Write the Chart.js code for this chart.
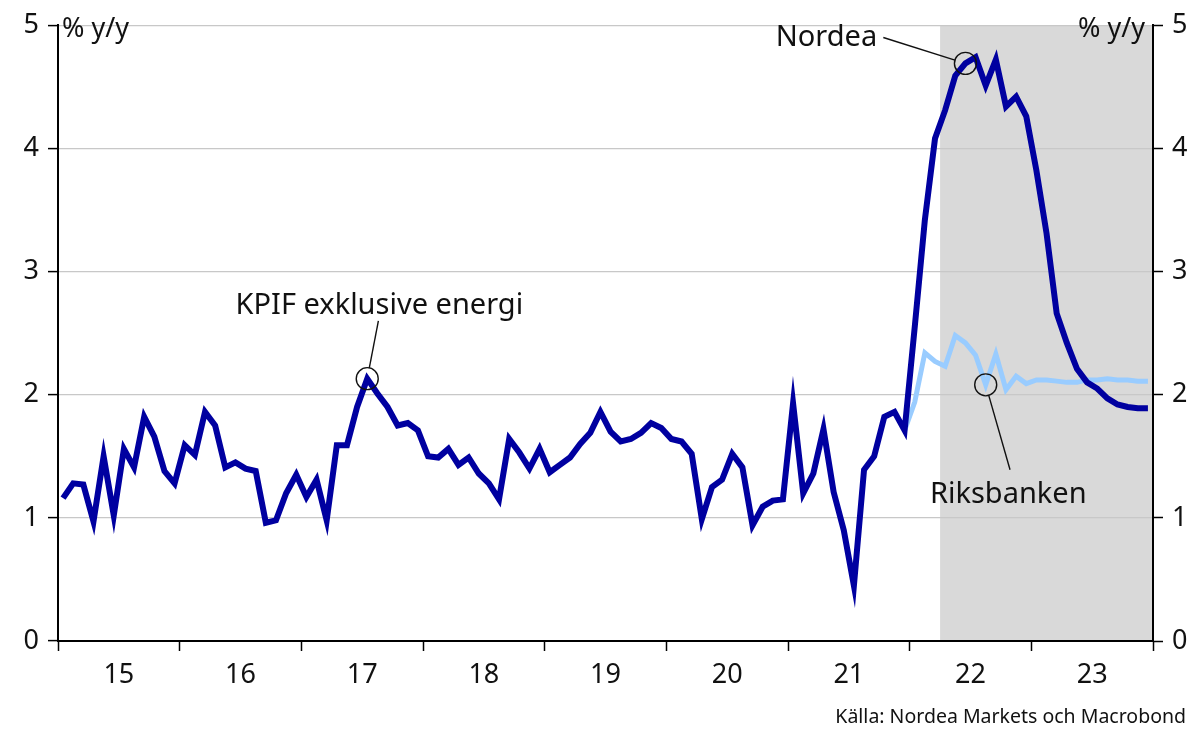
<!DOCTYPE html>
<html>
<head>
<meta charset="utf-8">
<script src="https://cdn.jsdelivr.net/npm/chart.js@4.4.1/dist/chart.umd.min.js"></script>
<style>
  html, body { margin: 0; padding: 0; background: #fff; }
</style>
</head>
<body>
<canvas id="chart" width="1204" height="730"></canvas>
<script>
// monthly, Jan 2015 onwards
const yearLabels = ['15', '16', '17', '18', '19', '20', '21', '22', '23'];

// KPIF exkl. energi, outcome Jan 2015 - Mar 2022
const kpifOutcome = [
  1.16, 1.28, 1.27, 0.97, 1.50, 1.02, 1.56, 1.41, 1.82, 1.66, 1.38, 1.28,
  1.59, 1.51, 1.86, 1.75, 1.41, 1.45, 1.40, 1.38, 0.96, 0.98, 1.20, 1.35,
  1.17, 1.31, 0.98, 1.59, 1.59, 1.90, 2.13, 2.01, 1.90, 1.75, 1.77, 1.71,
  1.50, 1.49, 1.56, 1.43, 1.49, 1.36, 1.28, 1.15, 1.64, 1.53, 1.40, 1.56,
  1.37, 1.43, 1.49, 1.60, 1.69, 1.86, 1.70, 1.62, 1.64, 1.69, 1.77, 1.73,
  1.64, 1.62, 1.52, 0.99, 1.25, 1.31, 1.52, 1.41, 0.94, 1.09, 1.14, 1.15,
  1.93, 1.20, 1.36, 1.72, 1.21, 0.90, 0.45, 1.39, 1.50, 1.82, 1.86, 1.71,
  2.55, 3.42, 4.08
];
// Nordea forecast Apr 2022 - Dec 2023
const nordeaForecast = [
  4.31, 4.59, 4.69, 4.74, 4.51, 4.72, 4.34, 4.42, 4.26,
  3.82, 3.31, 2.66, 2.42, 2.21, 2.10, 2.05, 1.97, 1.92, 1.90, 1.89, 1.89
];
// Riksbanken forecast Dec 2021 - Dec 2023
const riksbankStart = 83;
const riksbankForecast = [
  1.71, 1.94, 2.34, 2.27, 2.23, 2.48, 2.42, 2.32, 2.08, 2.33, 2.04, 2.15, 2.09,
  2.12, 2.12, 2.11, 2.10, 2.10, 2.12, 2.12, 2.13, 2.12, 2.12, 2.11, 2.11
];

const nordeaLine = kpifOutcome.concat(nordeaForecast);
const forecastStart = kpifOutcome.length;
const totalMonths = yearLabels.length * 12;

const FONT = '"Noto Sans", "Open Sans", sans-serif';
const NAVY = '#0000a0';
const LIGHT = '#99ccff';

const notes = [
  { text: 'Nordea', series: nordeaLine, idx: 89, tx: 80.8, ty: 4.90, align: 'right', lx: 81.4, ly: 4.90 },
  { text: 'KPIF exklusive energi', series: nordeaLine, idx: 30, tx: 31.7, ty: 2.72, align: 'center', lx: 31.6, ly: 2.60 },
  { text: 'Riksbanken', series: null, idx: 91, tx: 86.0, ty: 1.19, align: 'left', lx: 93.9, ly: 1.39 }
];

const extras = {
  id: 'extras',
  beforeDraw(chart) {
    const { ctx, chartArea: a, scales: { x } } = chart;
    const x0 = x.getPixelForValue(forecastStart);
    ctx.save();
    ctx.fillStyle = '#d9d9d9';
    ctx.fillRect(x0, a.top, a.right - x0, a.bottom - a.top);
    ctx.restore();
  },
  afterDraw(chart) {
    const { ctx, chartArea: a, scales: { x, y } } = chart;
    const r = 11;
    ctx.save();
    ctx.fillStyle = '#111';
    ctx.strokeStyle = '#111';
    ctx.lineWidth = 1.4;
    ctx.font = '29px ' + FONT;
    ctx.textBaseline = 'middle';

    notes.forEach(n => {
      const v = n.series ? n.series[n.idx] : riksbankForecast[n.idx - riksbankStart];
      const cx = x.getPixelForValue(n.idx + 0.5);
      const cy = y.getPixelForValue(v);
      ctx.beginPath();
      ctx.arc(cx, cy, r, 0, Math.PI * 2);
      ctx.stroke();
      const lx = x.getPixelForValue(n.lx), ly = y.getPixelForValue(n.ly);
      const dx = cx - lx, dy = cy - ly, d = Math.hypot(dx, dy);
      ctx.beginPath();
      ctx.moveTo(lx, ly);
      ctx.lineTo(cx - dx / d * r, cy - dy / d * r);
      ctx.stroke();
      ctx.textAlign = n.align;
      ctx.fillText(n.text, x.getPixelForValue(n.tx), y.getPixelForValue(n.ty));
    });

    // unit labels
    ctx.font = '27px ' + FONT;
    ctx.textAlign = 'left';
    ctx.fillText('% y/y', a.left + 4, a.top + 4);
    ctx.textAlign = 'right';
    ctx.fillText('% y/y', a.right - 8, a.top + 4);

    // source
    ctx.font = '19.5px ' + FONT;
    ctx.fillText('Källa: Nordea Markets och Macrobond', 1186, 717);
    ctx.restore();
  }
};

const yTicks = { font: { family: FONT, size: 27 }, color: '#111', padding: 9, stepSize: 1 };

new Chart(document.getElementById('chart'), {
  type: 'line',
  data: {
    datasets: [
      {
        label: 'KPIF exklusive energi / Nordea',
        data: nordeaLine.map((v, i) => ({ x: i + 0.5, y: v })),
        borderColor: NAVY,
        borderWidth: 6,
        order: 0
      },
      {
        label: 'Riksbanken',
        data: riksbankForecast.map((v, i) => ({ x: riksbankStart + i + 0.5, y: v })),
        borderColor: LIGHT,
        borderWidth: 5,
        order: 1
      }
    ]
  },
  options: {
    responsive: false,
    animation: false,
    layout: { padding: { top: 25, bottom: 0, left: 0, right: 0 } },
    elements: { point: { radius: 0 }, line: { tension: 0, fill: false } },
    plugins: { legend: { display: false }, tooltip: { enabled: false } },
    scales: {
      x: {
        type: 'linear',
        min: 0,
        max: totalMonths,
        afterBuildTicks: s => {
          s.ticks = [];
          for (let v = 0; v <= totalMonths; v += 6) s.ticks.push({ value: v });
        },
        afterFit: s => { s.height = 89; },
        ticks: {
          autoSkip: false,
          maxRotation: 0,
          font: { family: FONT, size: 27 },
          color: '#111',
          padding: 8,
          callback: v => (v % 12 === 6 ? yearLabels[(v - 6) / 12] : '')
        },
        grid: {
          drawOnChartArea: false,
          tickLength: 10,
          tickWidth: 1.5,
          tickColor: c => (c.tick && c.tick.value % 12 === 0 ? '#000' : 'rgba(0,0,0,0)')
        },
        border: { color: '#000', width: 2 }
      },
      y: {
        position: 'left',
        min: 0,
        max: 5,
        afterFit: s => { s.width = 58; },
        ticks: yTicks,
        grid: {
          color: c => (c.tick && c.tick.value === 0 ? 'rgba(0,0,0,0)' : '#c8c8c8'),
          lineWidth: 1.2,
          tickLength: 10,
          tickColor: '#000',
          tickWidth: 1.5
        },
        border: { color: '#000', width: 2 }
      },
      y2: {
        position: 'right',
        min: 0,
        max: 5,
        afterFit: s => { s.width = 51; },
        ticks: yTicks,
        grid: { drawOnChartArea: false, tickLength: 10, tickColor: '#000', tickWidth: 1.5 },
        border: { color: '#000', width: 2 }
      }
    }
  },
  plugins: [extras]
});
</script>
</body>
</html>
